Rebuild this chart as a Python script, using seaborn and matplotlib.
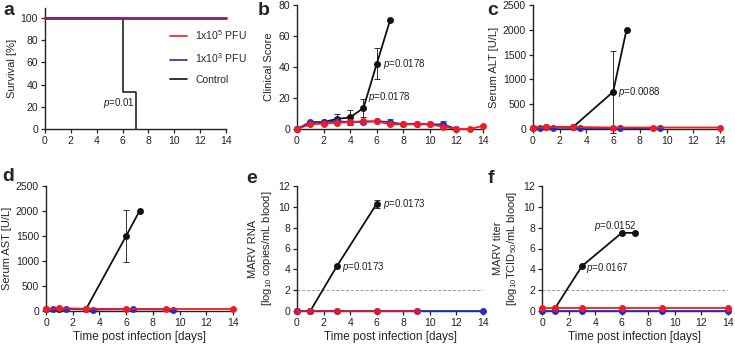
import numpy as np
import matplotlib
matplotlib.use("Agg")
import matplotlib.pyplot as plt
import seaborn as sns

sns.set_theme(style="ticks")
plt.rcParams['font.family'] = ['Liberation Sans', 'DejaVu Sans']
plt.rcParams['mathtext.fontset'] = 'custom'
plt.rcParams['mathtext.rm'] = 'Liberation Sans'
plt.rcParams['mathtext.it'] = 'Liberation Sans:italic'

RED = "#ee1c25"
BLUE = "#2b2bbf"
BLACK = "#111111"

# -------------------------------
# Data
# -------------------------------
# a: survival
surv_days = [0, 6, 7, 14]
surv_ctrl = [100, 33.3, 0, 0]
surv_hi = [100, 100, 100, 100]
surv_lo = [100, 100, 100, 100]

# b: clinical score
cs_ctrl_days = [0, 1, 2, 3, 4, 5, 6, 7]
cs_ctrl = [0, 4, 4.5, 6.5, 7.5, 13.5, 42, 70]
cs_ctrl_err = [0, 0, 0, 3, 5, 6, 10, 0]
cs_hi_days = list(range(15))
cs_hi = [0, 3, 3.5, 4, 4.5, 5, 5, 3, 3, 3, 3, 1.5, 0, 0, 2]
cs_lo_days = list(range(13))
cs_lo = [0, 4.5, 4.5, 5, 4.5, 4.5, 5, 4.5, 3, 3.5, 3, 3, 0]
cs_lo_err = [0, 0.5, 0.5, 0.5, 1, 1, 0.5, 2, 0.5, 0.5, 0.5, 2, 0]

# c: ALT
alt_ctrl_days = [0, 1, 3, 6, 7]
alt_ctrl = [30, 35, 40, 750, 2000]
alt_ctrl_err = [0, 0, 0, 830, 0]
alt_hi_days = [0, 1, 3, 6, 9, 14]
alt_hi = [30, 35, 40, 30, 30, 30]
alt_lo_days = [0.5, 1.5, 3.5, 6.5, 9.5]
alt_lo = [20, 25, 20, 20, 15]

# d: AST
ast_ctrl_days = [0, 1, 3, 6, 7]
ast_ctrl = [40, 45, 40, 1500, 2000]
ast_ctrl_err = [0, 0, 0, 520, 0]
ast_hi_days = [0, 1, 3, 6, 9, 14]
ast_hi = [40, 55, 45, 40, 40, 40]
ast_lo_days = [0.5, 1.5, 3.5, 6.5, 9.5]
ast_lo = [35, 40, 30, 35, 30]

# e: MARV RNA
rna_ctrl_days = [0, 1, 3, 6]
rna_ctrl = [0, 0, 4.3, 10.3]
rna_ctrl_err = [0, 0, 0, 0.4]
rna_hi_days = [0, 1, 3, 6, 9]
rna_hi = [0, 0, 0, 0, 0]
rna_lo_days = [0, 1, 3, 6, 9, 14]
rna_lo = [0, 0, 0, 0, 0, 0]

# f: MARV titer
tit_ctrl_days = [1, 3, 6, 7]
tit_ctrl = [0.3, 4.3, 7.5, 7.5]
tit_hi_days = [0, 1, 3, 6, 9, 14]
tit_hi = [0.3, 0.3, 0.3, 0.3, 0.3, 0.3]
tit_lo_days = [0, 1, 3, 6, 9, 14]
tit_lo = [0, 0, 0, 0, 0, 0]

W, H = 735, 345
fig = plt.figure(figsize=(W / 100, H / 100), dpi=100)


def make_ax(left, right, top, bottom):
    return fig.add_axes([left / W, (H - bottom) / H, (right - left) / W, (bottom - top) / H])


def style(ax, ymax, yticks, ylabel, xlabel=None):
    ax.set_xlim(0, 14)
    ax.set_ylim(0, ymax)
    ax.set_xticks(range(0, 15, 2))
    ax.set_yticks(yticks)
    ax.tick_params(labelsize=7.5, length=3, width=0.9, pad=2, colors="#222222")
    for s in ["top", "right"]:
        ax.spines[s].set_visible(False)
    for s in ["left", "bottom"]:
        ax.spines[s].set_linewidth(1.0)
        ax.spines[s].set_color("#222222")
    ax.set_ylabel(ylabel, fontsize=8, labelpad=3)
    if xlabel:
        ax.set_xlabel(xlabel, fontsize=8.5, labelpad=2)
    else:
        ax.set_xlabel("")


def series(ax, x, y, color, ms=5, lw=1.3, z=3, alpha=1.0):
    sns.lineplot(x=x, y=y, ax=ax, color=color, marker="o", markersize=ms, linewidth=lw,
                 markeredgewidth=0, zorder=z, clip_on=False, legend=False)
    ax.lines[-1].set_alpha(alpha)


def errs(ax, x, y, e, color=BLACK):
    ax.errorbar(x, y, yerr=e, fmt="none", ecolor=color, elinewidth=0.6, capsize=2,
                capthick=0.6, zorder=2, clip_on=False)


def ptext(ax, x, y, val, ha="left"):
    ax.text(x, y, r"$\it{p}$=" + val, fontsize=7, ha=ha, va="center", color="#222222")


# -------------------------------
# a: survival
# -------------------------------
ax = make_ax(45, 226, 8, 129)
sns.lineplot(x=surv_days, y=surv_hi, ax=ax, color=RED, drawstyle="steps-post", linewidth=2,
             label=r"1x10$^5$ PFU", zorder=3, clip_on=False)
sns.lineplot(x=surv_days, y=surv_lo, ax=ax, color=BLUE, drawstyle="steps-post", linewidth=2,
             label=r"1x10$^3$ PFU", zorder=4, clip_on=False)
ax.lines[-1].set_alpha(0.5)
sns.lineplot(x=surv_days[:3], y=surv_ctrl[:3], ax=ax, color=BLACK, drawstyle="steps-post",
             linewidth=1.1, label="Control", zorder=2, clip_on=False)
style(ax, 109, range(0, 101, 20), "Survival [%]")
h, l = ax.get_legend_handles_labels()
leg = ax.legend(h, l, loc="center left", bbox_to_anchor=(0.64, 0.6),
                frameon=False, fontsize=7.5, handlelength=1.6, labelspacing=0.9)
for lh in leg.get_lines():
    lh.set_alpha(1)
    lh.set_linewidth(1.2)
ptext(ax, 5.75, 23, "0.01", ha="center")

# -------------------------------
# b: clinical score
# -------------------------------
ax = make_ax(297, 483, 5, 129)
errs(ax, cs_ctrl_days, cs_ctrl, cs_ctrl_err)
errs(ax, cs_lo_days, cs_lo, cs_lo_err, color=BLUE)
series(ax, cs_ctrl_days, cs_ctrl, BLACK, z=3)
series(ax, cs_lo_days, cs_lo, BLUE, z=4)
series(ax, cs_hi_days, cs_hi, RED, z=5)
style(ax, 80, range(0, 81, 20), "Clinical Score")
ptext(ax, 6.45, 42, "0.0178")
ptext(ax, 5.35, 20.5, "0.0178")

# -------------------------------
# c: ALT
# -------------------------------
ax = make_ax(533, 720, 5, 129)
errs(ax, alt_ctrl_days, alt_ctrl, alt_ctrl_err)
series(ax, alt_ctrl_days, alt_ctrl, BLACK, z=3)
series(ax, alt_lo_days, alt_lo, BLUE, z=4)
series(ax, alt_hi_days, alt_hi, RED, z=5)
style(ax, 2500, range(0, 2501, 500), "Serum ALT [U/L]")
ptext(ax, 6.35, 750, "0.0088")

# -------------------------------
# d: AST
# -------------------------------
ax = make_ax(46, 233, 186, 311)
errs(ax, ast_ctrl_days, ast_ctrl, ast_ctrl_err)
series(ax, ast_ctrl_days, ast_ctrl, BLACK, z=3)
series(ax, ast_lo_days, ast_lo, BLUE, z=4)
series(ax, ast_hi_days, ast_hi, RED, z=5)
style(ax, 2500, range(0, 2501, 500), "Serum AST [U/L]", "Time post infection [days]")

# -------------------------------
# e: MARV RNA
# -------------------------------
ax = make_ax(297, 483, 186, 311)
ax.axhline(2, color="#999999", linestyle="--", linewidth=0.7, dashes=(3, 2), zorder=1)
errs(ax, rna_ctrl_days, rna_ctrl, rna_ctrl_err)
series(ax, rna_ctrl_days, rna_ctrl, BLACK, z=3)
series(ax, rna_lo_days, rna_lo, BLUE, z=4)
series(ax, rna_hi_days, rna_hi, RED, z=5, alpha=0.8)
style(ax, 12, range(0, 13, 2), "MARV RNA\n[log$_{10}$ copies/mL blood]", "Time post infection [days]")
ptext(ax, 6.45, 10.3, "0.0173")
ptext(ax, 3.4, 4.2, "0.0173")

# -------------------------------
# f: MARV titer
# -------------------------------
ax = make_ax(542, 728, 186, 311)
ax.axhline(2, color="#999999", linestyle="--", linewidth=0.7, dashes=(3, 2), zorder=1)
series(ax, tit_ctrl_days, tit_ctrl, BLACK, z=3)
series(ax, tit_lo_days, tit_lo, BLUE, z=4)
series(ax, tit_hi_days, tit_hi, RED, z=5)
style(ax, 12, range(0, 13, 2), "MARV titer\n[log$_{10}$TCID$_{50}$/mL blood]", "Time post infection [days]")
ptext(ax, 3.9, 8.2, "0.0152")
ptext(ax, 3.3, 4.1, "0.0167")

# panel letters
for lab, x, y in [("a", 3, 2), ("b", 258, 2), ("c", 487, 2),
                  ("d", 2, 168), ("e", 246, 170), ("f", 488, 170)]:
    fig.text(x / W, 1 - y / H, lab, fontsize=14, fontweight="bold", ha="left", va="top")

fig.savefig("out.png", dpi=100)
